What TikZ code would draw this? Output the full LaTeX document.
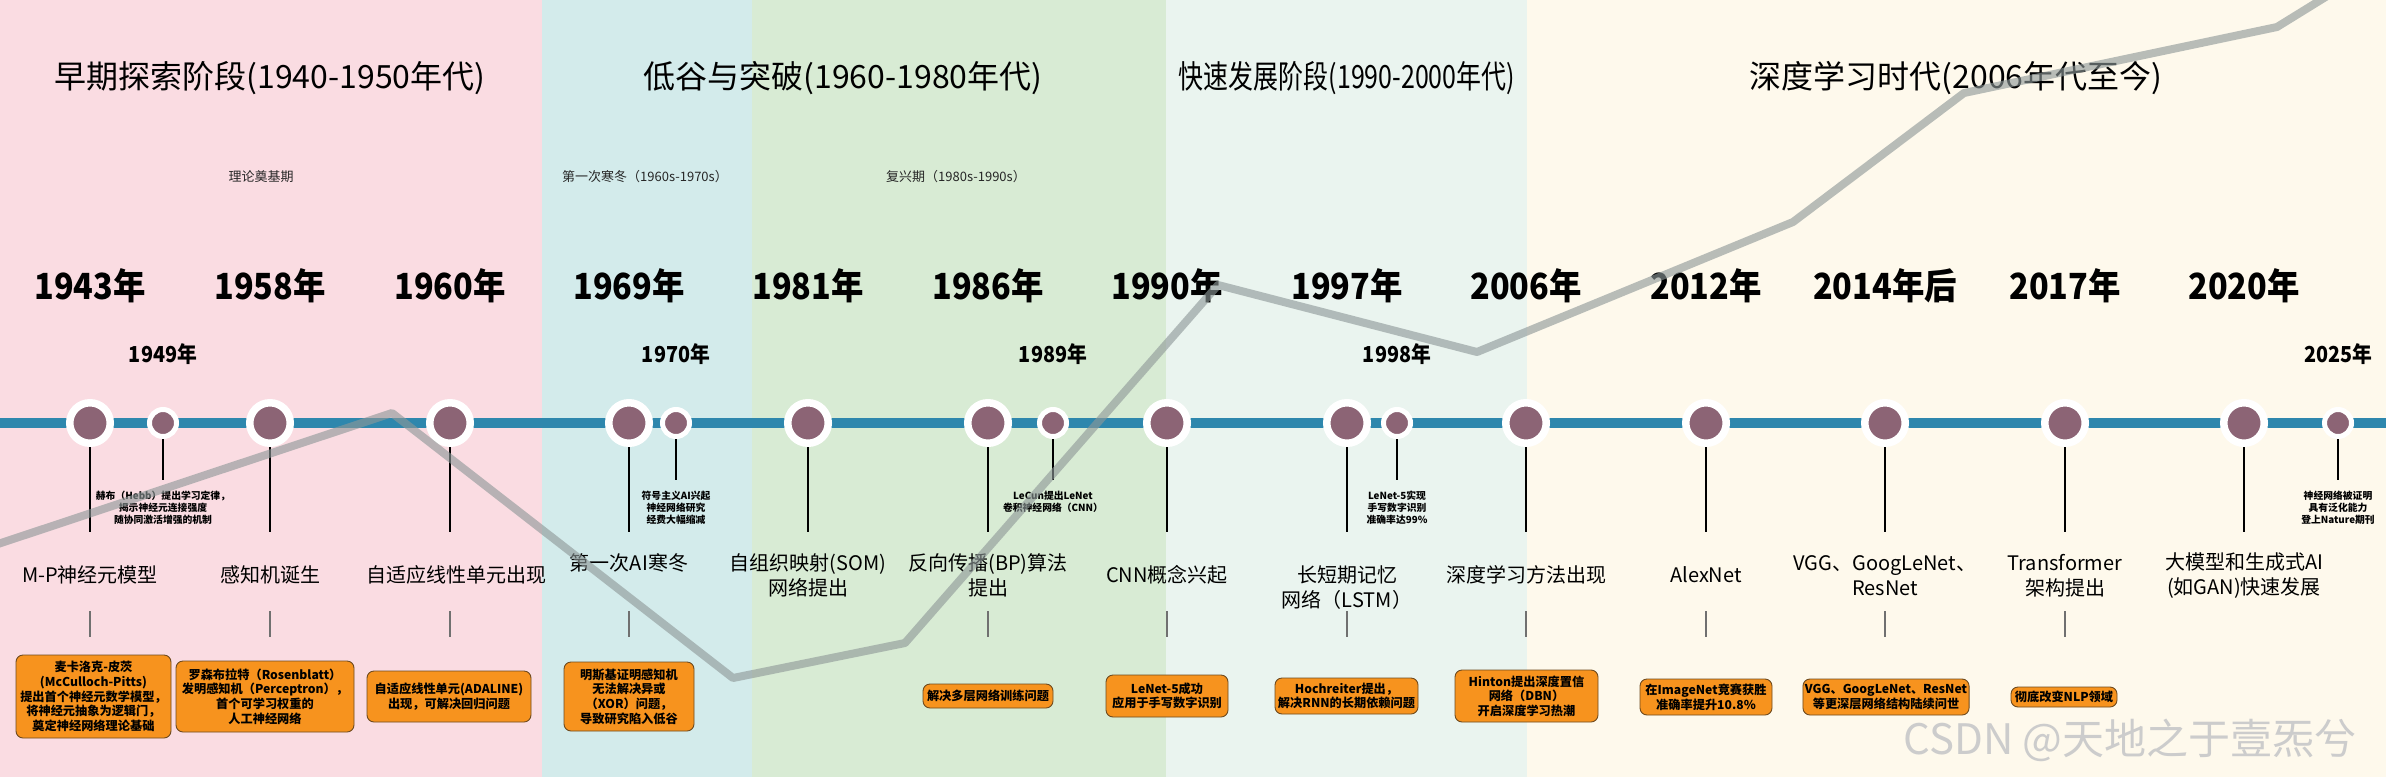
\documentclass[tikz,border=0pt]{standalone}
\usepackage{fontspec}
\setmainfont{Noto Sans CJK SC}
\definecolor{bgpink}{HTML}{FADCE2}
\definecolor{bgcyan}{HTML}{D3EBEB}
\definecolor{bggreen}{HTML}{D8EBD4}
\definecolor{bgmint}{HTML}{EAF4EF}
\definecolor{bgcream}{HTML}{FEF9EC}
\definecolor{tlblue}{HTML}{2E87AD}
\definecolor{dotpurple}{HTML}{8C6475}
\definecolor{boxorange}{HTML}{F7931E}
\definecolor{boxedge}{HTML}{6E4A1E}
\definecolor{trendgray}{HTML}{8E9898}
\definecolor{conngray}{HTML}{707070}
\newcommand{\eraFont}{\fontsize{32}{38}\selectfont}
\newcommand{\yearFont}{\fontsize{36}{42}\selectfont\bfseries}
\newcommand{\syearFont}{\fontsize{22}{26}\selectfont\bfseries}
\newcommand{\periodFont}{\fontsize{13}{16}\selectfont}
\newcommand{\labelFont}{\fontsize{20}{25}\selectfont}
\newcommand{\noteFont}{\fontsize{9.8}{11.8}\selectfont\bfseries}
\newcommand{\boxFont}{\fontsize{12.2}{14.6}\selectfont\bfseries}
\newcommand{\condensed}[1]{\scalebox{0.9}[1]{#1}}
\begin{document}
\begin{tikzpicture}[x=1pt,y=-1pt,
  era/.style={font=\eraFont, inner sep=0pt, anchor=center},
  period/.style={font=\periodFont, text=black!85, inner sep=0pt},
  year/.style={font=\yearFont, inner sep=0pt},
  syear/.style={font=\syearFont, inner sep=0pt},
  evlabel/.style={font=\labelFont, align=center, inner sep=0pt},
  note/.style={font=\noteFont, align=center, inner sep=0pt},
  evbox/.style={draw=boxedge, fill=boxorange, rounded corners=7pt, line width=0.9pt,
    font=\boxFont, align=center, inner sep=2pt},
  bigdot/.style={circle, fill=dotpurple, draw=white, line width=7.5pt, minimum size=40.5pt, inner sep=0pt},
  smalldot/.style={circle, fill=dotpurple, draw=white, line width=5pt, minimum size=27pt, inner sep=0pt},
  tlline/.style={draw=tlblue, line width=10pt},
  stem/.style={draw=black, line width=2pt},
  conn/.style={draw=conngray, line width=1.2pt},
  trendline/.style={draw=trendgray, line width=8pt, opacity=0.62, line join=round},
  wmark/.style={font=\fontsize{42}{48}\selectfont, text=black!20, inner sep=0pt}
]
\useasboundingbox (0,0) rectangle (2386,777);
\begin{scope}
\clip (0,0) rectangle (2386,777);
% background bands
\fill[bgpink] (0,0) rectangle (542,777);
\fill[bgcyan] (542,0) rectangle (752,777);
\fill[bggreen] (752,0) rectangle (1166,777);
\fill[bgmint] (1166,0) rectangle (1527,777);
\fill[bgcream] (1527,0) rectangle (2386,777);

% era titles
\node[era] (era1) at (270,78) {早期探索阶段(1940-1950年代)};
\node[era] (era2) at (843,78) {低谷与突破(1960-1980年代)};
\node[era] (era3) at (1347,78) {\scalebox{0.78}[1]{快速发展阶段(1990-2000年代)}};
\node[era] (era4) at (1956,78) {深度学习时代(2006年代至今)};

% sub-periods
\node[period] (per1) at (261,177) {理论奠基期};
\node[period] (per2) at (645,177) {第一次寒冬（1960s-1970s）};
\node[period] (per3) at (956,177) {复兴期（1980s-1990s）};

% timeline
\coordinate (tlL) at (0,423);
\coordinate (tlR) at (2386,423);
\draw[tlline] (tlL) -- (tlR);

% major events: dots, stems, years
\foreach \k/\x in {1943/90,1958/270,1960/450,1969/629,1981/808,1986/988,1990/1167,1997/1347,2006/1526,2012/1706,2014/1885,2017/2065,2020/2244}{
  \node[bigdot] (d\k) at (\x,423) {};
  \coordinate (s\k) at (\x,532);
  \draw[stem] (d\k.south) -- (s\k);
}
\foreach \k/\x in {1943/90,1958/270,1960/450,1969/629,1981/808,1986/988,1990/1167,1997/1347,2006/1526,2012/1706,2017/2065,2020/2244}{
  \node[year] (y\k) at (\x,286) {\condensed{\k 年}};
}
\node[year] (y2014) at (1885,286) {\condensed{2014年后}};

% minor events
\foreach \k/\x in {1949/163,1970/676,1989/1053,1998/1397,2025/2338}{
  \node[smalldot] (d\k) at (\x,423) {};
  \coordinate (s\k) at (\x,480);
  \draw[stem] (d\k.south) -- (s\k);
  \node[syear] (y\k) at (\x,354) {\condensed{\k 年}};
}

% minor notes
\node[note] (n1949) at (163,507.5) {赫布（Hebb）提出学习定律，\\揭示神经元连接强度\\随协同激活增强的机制};
\node[note] (n1970) at (676,507.5) {符号主义AI兴起\\神经网络研究\\经费大幅缩减};
\node[note] (n1989) at (1053,501.5) {LeCun提出LeNet\\卷积神经网络（CNN）};
\node[note] (n1998) at (1397,507.5) {LeNet-5实现\\手写数字识别\\准确率达99\%};
\node[note] (n2025) at (2338,507.5) {神经网络被证明\\具有泛化能力\\登上Nature期刊};

% event labels
\node[evlabel] (l1943) at (90,575) {M-P神经元模型};
\node[evlabel] (l1958) at (270,575) {感知机诞生};
\node[evlabel] (l1960) at (456,575) {自适应线性单元出现};
\node[evlabel] (l1969) at (629,563) {第一次AI寒冬};
\node[evlabel] (l1981) at (808,575.5) {自组织映射(SOM)\\网络提出};
\node[evlabel] (l1986) at (988,575.5) {反向传播(BP)算法\\提出};
\node[evlabel] (l1990) at (1167,575) {CNN概念兴起};
\node[evlabel] (l1997) at (1347,587.5) {长短期记忆\\网络（LSTM）};
\node[evlabel] (l2006) at (1526,575) {深度学习方法出现};
\node[evlabel] (l2012) at (1706,575) {AlexNet};
\node[evlabel] (l2014) at (1885,575.5) {VGG、GoogLeNet、\\ResNet};
\node[evlabel] (l2017) at (2065,575.5) {Transformer\\架构提出};
\node[evlabel] (l2020) at (2244,575.5) {大模型和生成式AI\\(如GAN)快速发展};

% short connectors
\foreach \k/\x in {1943/90,1958/270,1960/450,1969/629,1986/988,1990/1167,1997/1347,2006/1526,2012/1706,2014/1885,2017/2065}{
  \coordinate (ct\k) at (\x,611);
  \coordinate (cb\k) at (\x,637);
  \draw[conn] (ct\k) -- (cb\k);
}

% detail boxes
\node[evbox, minimum width=155pt, minimum height=83pt] (b1943) at (93.5,696.5) {麦卡洛克-皮茨\\(McCulloch-Pitts)\\提出首个神经元数学模型，\\将神经元抽象为逻辑门，\\奠定神经网络理论基础};
\node[evbox, minimum width=178pt, minimum height=71pt] (b1958) at (265,696.5) {罗森布拉特（Rosenblatt）\\发明感知机（Perceptron），\\首个可学习权重的\\人工神经网络};
\node[evbox, minimum width=164pt, minimum height=51pt] (b1960) at (449,696.5) {自适应线性单元(ADALINE)\\出现，可解决回归问题};
\node[evbox, minimum width=130pt, minimum height=69pt] (b1969) at (629,696.5) {明斯基证明感知机\\无法解决异或\\（XOR）问题，\\导致研究陷入低谷};
\node[evbox, minimum width=130pt, minimum height=24pt] (b1986) at (988,696) {解决多层网络训练问题};
\node[evbox, minimum width=122pt, minimum height=42pt] (b1990) at (1167,696) {LeNet-5成功\\应用于手写数字识别};
\node[evbox, minimum width=143pt, minimum height=36pt] (b1997) at (1346.5,696) {Hochreiter提出，\\解决RNN的长期依赖问题};
\node[evbox, minimum width=143pt, minimum height=52pt] (b2006) at (1526.5,696) {Hinton提出深度置信\\网络（DBN）\\开启深度学习热潮};
\node[evbox, minimum width=132pt, minimum height=36pt] (b2012) at (1706,697) {在ImageNet竞赛获胜\\准确率提升10.8\%};
\node[evbox, minimum width=166pt, minimum height=36pt] (b2014) at (1886,697) {VGG、GoogLeNet、ResNet\\等更深层网络结构陆续问世};
\node[evbox, minimum width=106pt, minimum height=20pt] (b2017) at (2064,697) {彻底改变NLP领域};

% trend polyline
\coordinate (t0) at (-5,545);
\coordinate (t1) at (392,413);
\coordinate (t2) at (733,678);
\coordinate (t3) at (905,643);
\coordinate (t4) at (1218,285);
\coordinate (t5) at (1477,352);
\coordinate (t6) at (1793,222);
\coordinate (t7) at (1964,93);
\coordinate (t8) at (2277,27);
\coordinate (t9) at (2345,-15);
\draw[trendline] (t0) -- (t1) -- (t2) -- (t3) -- (t4) -- (t5) -- (t6) -- (t7) -- (t8) -- (t9);

% watermark
\node[wmark] (wm) at (2130,740) {CSDN @天地之于壹炁兮};
\end{scope}
\end{tikzpicture}
\end{document}
